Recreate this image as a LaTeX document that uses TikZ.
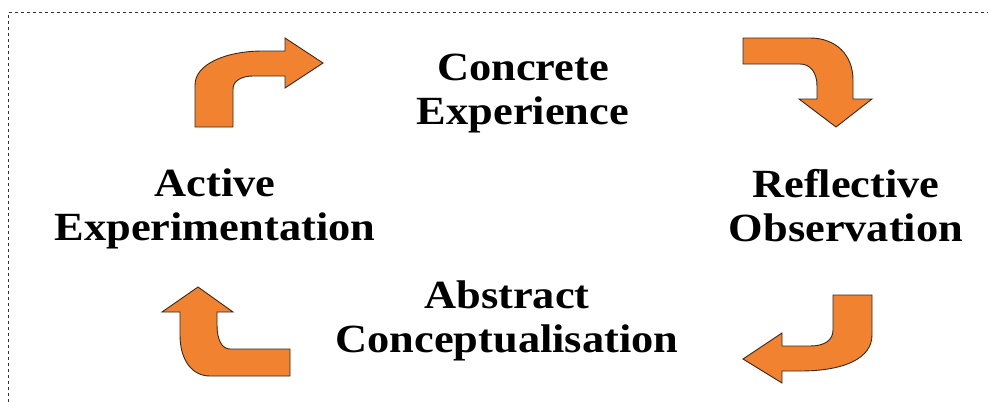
\documentclass[tikz,border=0pt]{standalone}
\usepackage{fontspec}
\setmainfont{Liberation Serif}[FakeStretch=1.11]
\usepackage{tikz}
\usetikzlibrary{positioning}

\definecolor{arroworange}{RGB}{241,131,48}
\definecolor{arrowedge}{RGB}{60,38,25}

\begin{document}
\begin{tikzpicture}[x=1pt,y=-1pt,
        stage/.style={align=center,inner sep=0pt,font=\fontsize{40}{44}\selectfont\bfseries},
        bent arrow/.style={fill=arroworange,draw=arrowedge,line width=0.9pt,line join=miter},
        frame line/.style={draw=black!80,line width=1pt,dash pattern=on 3.5pt off 2.5pt}]
    \useasboundingbox (0,0) rectangle (988,402);

    % dotted frame, only top and left are visible
    \draw[frame line] (8,402) -- (8,12.5) -- (988,12.5);

    % the four stages
    \node[stage] (CE) at (523,94) {Concrete\\Experience};
    \node[stage] (RO) at (846,206) {Reflective\\Observation};
    \node[stage] (AC) at (507,321) {Abstract\\Conceptualisation};
    \node[stage] (AE) at (215,209) {Active\\Experimentation};

    % bent arrows between the stages
    \draw[bent arrow] (195,127) -- (195,85) .. controls (195,64) and (226,51) .. (263,51)
        -- (285,51) -- (285,38) -- (323,63) -- (285,88) -- (285,76) -- (253,76)
        .. controls (243,76) and (233,80) .. (233,89) -- (233,127) -- cycle;
    \draw[bent arrow] (743,38) -- (810,38) .. controls (836,38) and (853,55) .. (853,80)
        -- (853,99) -- (872,99) -- (836,127) -- (799,99) -- (817,99) -- (817,86)
        .. controls (817,72) and (810,64) .. (800,64) -- (743,64) -- cycle;
    \draw[bent arrow] (872,295) -- (872,335) .. controls (872,358) and (845,371) .. (800,371)
        -- (782,371) -- (782,383) -- (743,359) -- (782,333) -- (782,346) -- (810,346)
        .. controls (825,346) and (833,340) .. (833,330) -- (833,295) -- cycle;
    \draw[bent arrow] (290,349) -- (230,349) .. controls (222,349) and (217,340) .. (217,325)
        -- (217,312) -- (233,312) -- (198,287) -- (162,312) -- (180,312) -- (180,335)
        .. controls (180,360) and (192,376) .. (210,376) -- (290,376) -- cycle;
\end{tikzpicture}
\end{document}
